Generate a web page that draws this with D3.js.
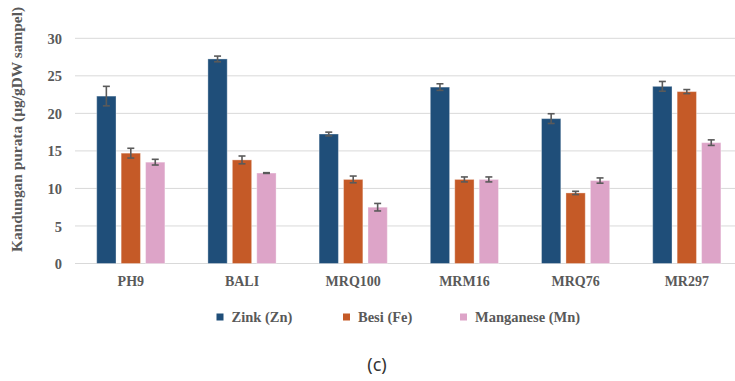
<!DOCTYPE html>
<html>
<head>
<meta charset="utf-8">
<script src="https://cdn.jsdelivr.net/npm/d3@7"></script>
<style>
  html, body { margin: 0; padding: 0; background: #fff; }
  svg { display: block; }
  .lgtext { font-family: 'Liberation Serif', 'Times New Roman', serif; font-weight: bold; }
</style>
</head>
<body>
<script>
// Mineral content per variety (mean ± error)
const categories = ["PH9", "BALI", "MRQ100", "MRM16", "MRQ76", "MR297"];
const seriesNames = ["Zink (Zn)", "Besi (Fe)", "Manganese (Mn)"];
const zinc     = [22.3, 27.25, 17.25, 23.5, 19.3, 23.6];
const zincErr  = [1.3, 0.38, 0.25, 0.44, 0.65, 0.65];
const iron     = [14.7, 13.8, 11.2, 11.2, 9.4, 22.9];
const ironErr  = [0.65, 0.52, 0.45, 0.33, 0.22, 0.27];
const mangan   = [13.5, 12.05, 7.5, 11.2, 11.05, 16.1];
const manganErr= [0.38, 0.05, 0.5, 0.33, 0.35, 0.37];
const yTicks = [0, 5, 10, 15, 20, 25, 30];
const colors = ["#1f4e79", "#c55a27", "#dda4c8"];

const W = 735, H = 381;
const svg = d3.select("body").append("svg").attr("width", W).attr("height", H);

const x = d3.scaleBand().domain(categories).range([75.2, 742.4]).paddingInner(0).paddingOuter(0);
const xs = d3.scaleBand().domain(seriesNames).range([21.5, x.bandwidth() - 21.5]).paddingInner(0.21);
const y = d3.scaleLinear().domain([0, 30]).range([263.5, 38.3]);

const serif = "'Liberation Serif', 'Times New Roman', serif";
const grey = "#595959";

// Gridlines
svg.append("g").selectAll("line").data(yTicks).join("line")
  .attr("x1", 75).attr("x2", W)
  .attr("y1", d => y(d)).attr("y2", d => y(d))
  .attr("stroke", "#d9d9d9").attr("stroke-width", 1);

// Y tick labels
const yAxis = d3.axisLeft(y).tickValues(yTicks).tickSize(0).tickPadding(0);
const yg = svg.append("g").attr("transform", "translate(62,0)").call(yAxis);
yg.select(".domain").remove();
yg.selectAll("text").attr("font-family", serif).attr("font-weight", "bold")
  .attr("font-size", 14.5).attr("fill", grey).attr("dy", "0.35em");

// X labels
const xAxis = d3.axisBottom(x).tickSize(0).tickPadding(0);
const xg = svg.append("g").attr("transform", "translate(0,276)").call(xAxis);
xg.select(".domain").remove();
xg.selectAll("text").attr("font-family", serif).attr("font-weight", "bold")
  .attr("font-size", 14).attr("fill", grey).attr("dy", "0.71em");

// Y title
svg.append("text")
  .attr("transform", "translate(22,252) rotate(-90)")
  .attr("text-anchor", "start")
  .attr("font-family", serif).attr("font-weight", "bold")
  .attr("font-size", 15.4).attr("fill", grey)
  .text("Kandungan purata (µg/gDW sampel)");

// Bars
const series = [
  { name: seriesNames[0], vals: zinc, errs: zincErr, color: colors[0] },
  { name: seriesNames[1], vals: iron, errs: ironErr, color: colors[1] },
  { name: seriesNames[2], vals: mangan, errs: manganErr, color: colors[2] }
];
const flat = [];
series.forEach(s => categories.forEach((c, i) => flat.push({ cat: c, name: s.name, v: s.vals[i], e: s.errs[i], color: s.color })));

const bars = svg.append("g");
bars.selectAll("rect").data(flat).join("rect")
  .attr("x", d => x(d.cat) + xs(d.name))
  .attr("width", xs.bandwidth())
  .attr("y", d => y(d.v))
  .attr("height", d => y(0) - y(d.v))
  .attr("fill", d => d.color)
  .attr("stroke", "rgba(255,255,255,0.35)")
  .attr("stroke-width", 1);

// Error bars
const eg = svg.append("g").attr("stroke", "#5a5a5a").attr("stroke-width", 1.6);
flat.forEach(d => {
  const cx = x(d.cat) + xs(d.name) + xs.bandwidth() / 2;
  const top = y(d.v + d.e), bot = y(d.v - d.e);
  eg.append("line").attr("x1", cx).attr("x2", cx).attr("y1", top).attr("y2", bot);
  eg.append("line").attr("x1", cx - 3.5).attr("x2", cx + 3.5).attr("y1", top).attr("y2", top);
  eg.append("line").attr("x1", cx - 3.5).attr("x2", cx + 3.5).attr("y1", bot).attr("y2", bot);
});

// Legend
const legendX = [216.5, 343, 460];
const lg = svg.append("g");
series.forEach((s, i) => {
  lg.append("rect").attr("x", legendX[i]).attr("y", 313.5).attr("width", 7).attr("height", 7).attr("fill", s.color);
  lg.append("text").attr("class", "lgtext")
    .attr("x", legendX[i] + 15).attr("y", 317).attr("dy", "0.35em")
    .attr("font-size", 14.5)
    .attr("fill", grey).text(s.name);
});

// Panel label
svg.append("text").attr("x", 377).attr("y", 365).attr("dy", "0.35em")
  .attr("text-anchor", "middle").attr("font-family", "'Noto Sans', 'Open Sans', sans-serif")
  .attr("font-size", 18).attr("fill", "#333").text("(c)");
</script>
</body>
</html>
